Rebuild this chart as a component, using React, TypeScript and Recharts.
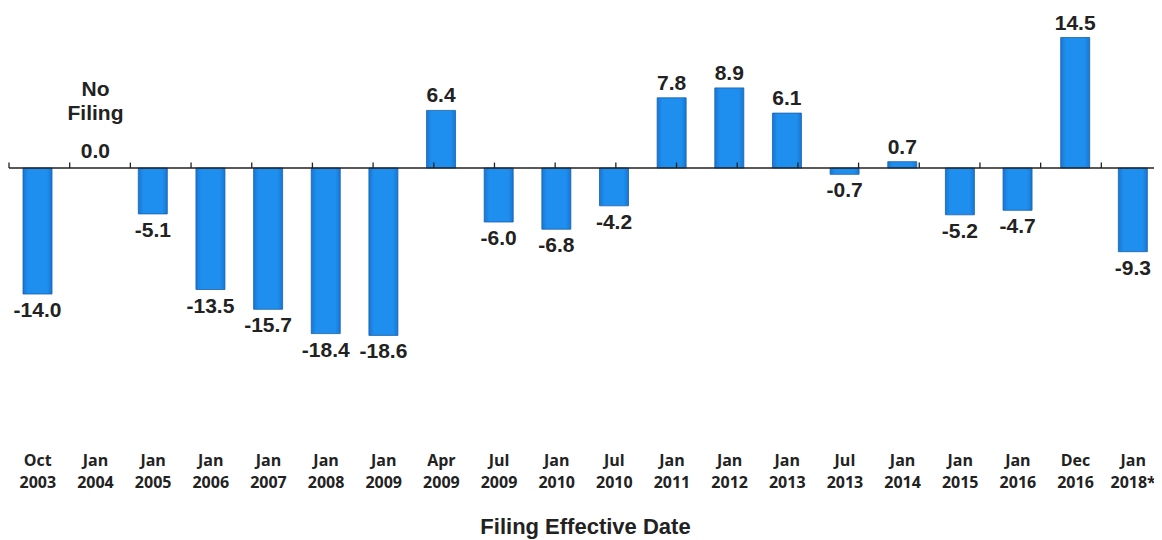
import React from "react";
import { BarChart, Bar, XAxis, YAxis, ReferenceLine, ReferenceDot, LabelList, Label } from "recharts";

const months = ["Oct", "Jan", "Jan", "Jan", "Jan", "Jan", "Jan", "Apr", "Jul", "Jan", "Jul", "Jan", "Jan", "Jan", "Jul", "Jan", "Jan", "Jan", "Dec", "Jan"];
const years = ["2003", "2004", "2005", "2006", "2007", "2008", "2009", "2009", "2009", "2010", "2010", "2011", "2012", "2013", "2013", "2014", "2015", "2016", "2016", "2018*"];
const changes = [-14.0, 0.0, -5.1, -13.5, -15.7, -18.4, -18.6, 6.4, -6.0, -6.8, -4.2, 7.8, 8.9, 6.1, -0.7, 0.7, -5.2, -4.7, 14.5, -9.3];
const noFilingIndex = 1;
const boundaries = Array.from({ length: 21 }, (_, i) => i);

const data = changes.map((v, i) => ({ key: `${months[i]} ${years[i]}`, month: months[i], year: years[i], value: v }));

const LABEL_FONT = "'Liberation Sans', Arial, sans-serif";

const ValueLabel = (props: any) => {
  const { x, y, width, height, value } = props;
  const cx = x + width / 2;
  const v = Number(value);
  if (v === 0) return null;
  const text = v.toFixed(1);
  const top = Math.min(y, y + height);
  const bottom = Math.max(y, y + height);
  const ty = v >= 0 ? top - 8 : bottom + 23;
  return (
    <text x={cx} y={ty} textAnchor="middle" fontFamily={LABEL_FONT} fontWeight={700} fontSize={21} fill="#222">
      {text}
    </text>
  );
};

const NoFilingLabel = (props: any) => {
  const vb = props.viewBox || {};
  const cx = vb.x + (vb.width || 0) / 2;
  const cy = vb.y + (vb.height || 0) / 2;
  return (
    <g fontFamily={LABEL_FONT} fontWeight={700} fontSize={21} fill="#222" textAnchor="middle">
      <text x={cx} y={cy - 72}>No</text>
      <text x={cx} y={cy - 48}>Filing</text>
      <text x={cx} y={cy - 10}>{changes[noFilingIndex].toFixed(1)}</text>
    </g>
  );
};

const DateTick = (props: any) => {
  const { x, y, index } = props;
  return (
    <g fontFamily="'Open Sans', sans-serif" fontWeight={700} fontSize={16} fill="#222" textAnchor="middle">
      <text x={x} y={y + 110}>{months[index]}</text>
      <text x={x} y={y + 132}>{years[index]}</text>
    </g>
  );
};

export default function App() {
  return (
    <BarChart width={1154} height={532} data={data} margin={{ top: 16, right: 0, left: 1, bottom: 0 }} barCategoryGap={0}>
      <defs>
        <linearGradient id="barGrad" x1="0" y1="0" x2="1" y2="0">
          <stop offset="0%" stopColor="#1677d6" />
          <stop offset="18%" stopColor="#1f8fef" />
          <stop offset="82%" stopColor="#1f8fef" />
          <stop offset="100%" stopColor="#1677d6" />
        </linearGradient>
      </defs>
      <XAxis dataKey="key" height={192} axisLine={false} tickLine={false} interval={0} tick={<DateTick />}>
        <Label value="Filing Effective Date" position="insideBottom" offset={6} style={{ fontFamily: LABEL_FONT, fontWeight: 700, fontSize: 22, fill: "#222" }} />
      </XAxis>
      <XAxis xAxisId="n" type="number" domain={[0, 20]} hide />
      <YAxis domain={[-20, 16]} hide />
      <Bar dataKey="value" fill="url(#barGrad)" stroke="#1a5fa8" strokeWidth={0.8} barSize={29} isAnimationActive={false}>
        <LabelList dataKey="value" content={<ValueLabel />} />
      </Bar>
      <ReferenceLine y={0} stroke="#222" strokeWidth={1.5} />
      {boundaries.map((b) => (
        <ReferenceLine
          key={b}
          xAxisId="n"
          segment={[{ x: b, y: 0 }, { x: b, y: 0.6 }]}
          stroke="#222"
          strokeWidth={1.3}
        />
      ))}
      <ReferenceDot x={data[noFilingIndex].key} y={0} r={0} fill="none" stroke="none" label={<NoFilingLabel />} />
    </BarChart>
  );
}
